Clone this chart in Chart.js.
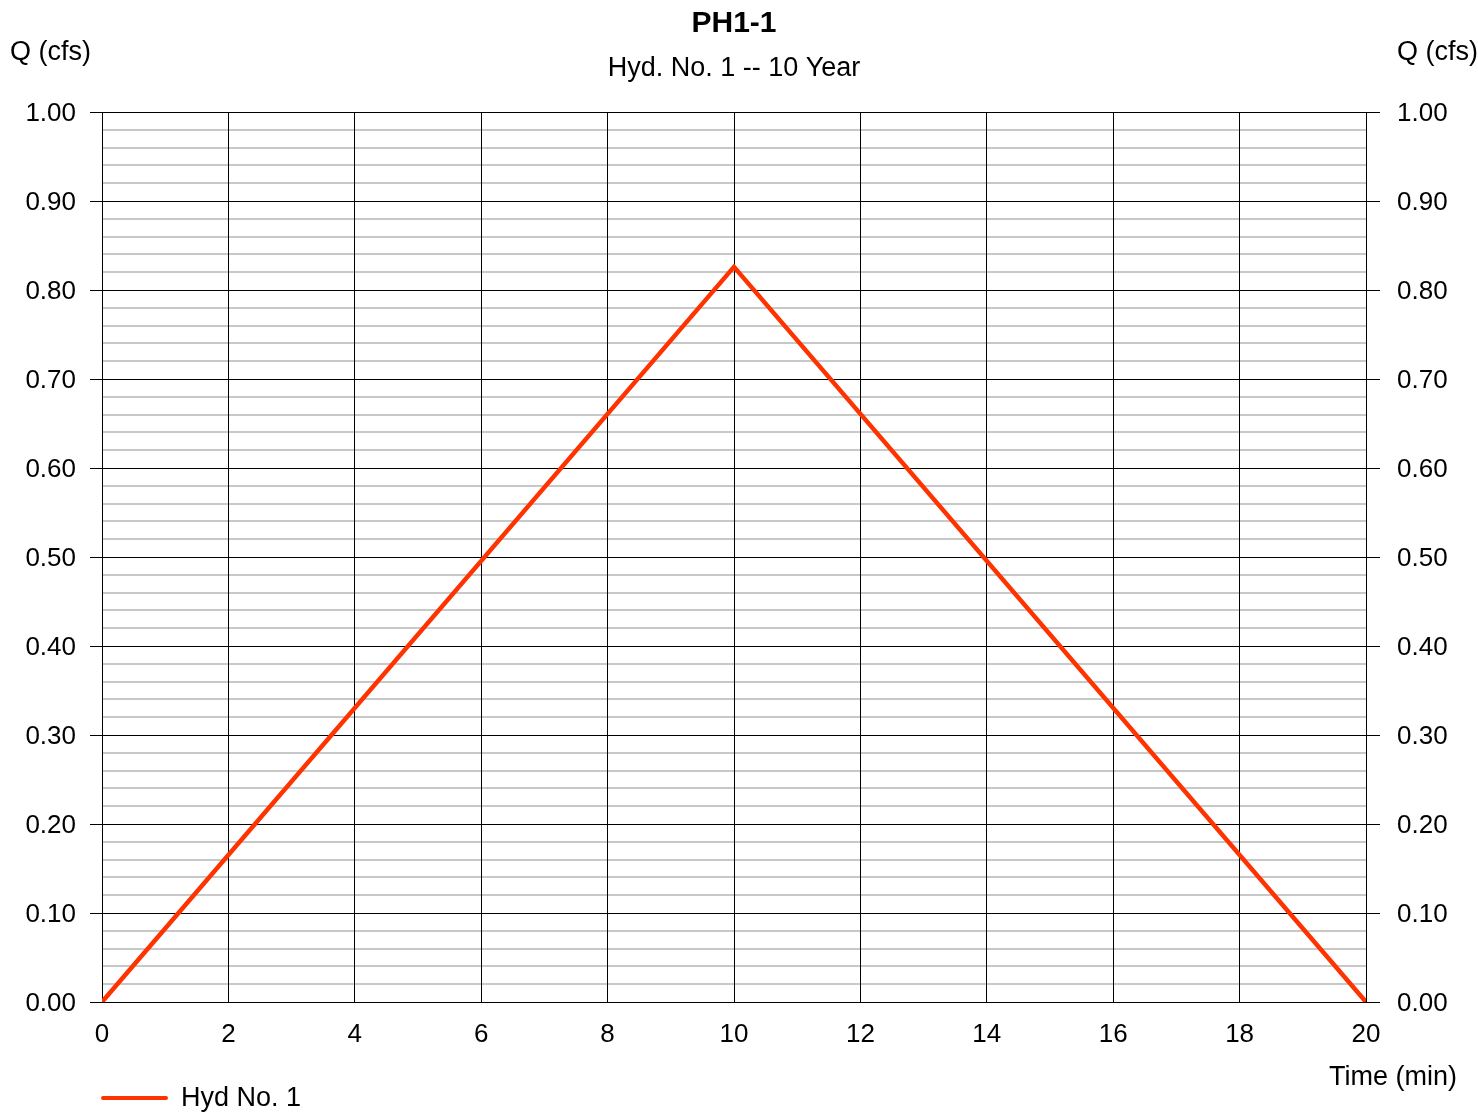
<!DOCTYPE html>
<html>
<head>
<meta charset="utf-8">
<title>PH1-1</title>
<script src="https://cdn.jsdelivr.net/npm/chart.js@4"></script>
<style>
  html, body { margin: 0; padding: 0; background: #fff; }
  canvas { display: block; }
</style>
</head>
<body>
<canvas id="hydChart" width="1478" height="1112"></canvas>
<script>
// ===== Data =====
const timeMin = [0, 10, 20];
const flowCfs = [0, 0.826, 0];
const seriesName = 'Hyd No. 1';
const chartTitle = 'PH1-1';
const chartSubtitle = 'Hyd. No. 1 -- 10 Year';

const FONT = "'Liberation Sans', Arial, sans-serif";
const LINE_COLOR = '#ff3300';

Chart.defaults.font.family = FONT;
Chart.defaults.font.size = 26;
Chart.defaults.color = '#000';

function isMajor(v) {
  return Math.round(v * 100) % 10 === 0;
}

// ===== Text labels, titles and legend =====
const labelsPlugin = {
  id: 'labelsPlugin',
  afterDraw(chart) {
    const ctx = chart.ctx;
    const area = chart.chartArea;
    const cx = (area.left + area.right) / 2;
    ctx.save();
    ctx.fillStyle = '#000';
    ctx.textBaseline = 'middle';

    ctx.font = "bold 30px " + FONT;
    ctx.textAlign = 'center';
    ctx.fillText(chartTitle, cx, 24);

    ctx.font = "27px " + FONT;
    ctx.fillText(chartSubtitle, cx, 69);

    ctx.textAlign = 'left';
    ctx.fillText('Q (cfs)', 10, 53);
    ctx.fillText('Q (cfs)', 1397, 53);
    ctx.fillText('Time (min)', 1329, 1078);

    // legend
    ctx.strokeStyle = LINE_COLOR;
    ctx.lineWidth = 4;
    ctx.lineCap = 'round';
    ctx.beginPath();
    ctx.moveTo(103, 1098);
    ctx.lineTo(166, 1098);
    ctx.stroke();
    ctx.fillText(seriesName, 181, 1099);
    ctx.restore();
  }
};

// ===== Chart =====
const ctx = document.getElementById('hydChart').getContext('2d');
new Chart(ctx, {
  type: 'line',
  data: {
    datasets: [{
      label: seriesName,
      data: timeMin.map((t, i) => ({ x: t, y: flowCfs[i] })),
      borderColor: LINE_COLOR,
      borderWidth: 4.5,
      tension: 0,
      pointRadius: 0,
      fill: false
    }]
  },
  options: {
    responsive: false,
    animation: false,
    layout: { padding: { top: 112, left: 0, right: 0, bottom: 0 } },
    plugins: {
      legend: { display: false },
      title: { display: false },
      tooltip: { enabled: false }
    },
    scales: {
      y: {
        position: 'left',
        min: 0,
        max: 1,
        afterFit: (scale) => { scale.width = 102; },
        border: { display: false },
        grid: {
          color: (c) => isMajor(c.tick.value) ? '#000' : '#c8c8c8',
          lineWidth: (c) => isMajor(c.tick.value) ? 1 : 2,
          tickColor: (c) => isMajor(c.tick.value) ? '#000' : 'rgba(0,0,0,0)',
          tickLength: 12
        },
        ticks: {
          stepSize: 0.02,
          autoSkip: false,
          padding: 14,
          labelOffset: 2,
          callback: (v) => isMajor(v) ? v.toFixed(2) : ''
        }
      },
      yRight: {
        position: 'right',
        min: 0,
        max: 1,
        afterFit: (scale) => { scale.width = 112; },
        border: { display: false },
        grid: {
          drawOnChartArea: false,
          tickColor: (c) => isMajor(c.tick.value) ? '#000' : 'rgba(0,0,0,0)',
          tickLength: 14
        },
        ticks: {
          stepSize: 0.02,
          autoSkip: false,
          padding: 17,
          labelOffset: 2,
          callback: (v) => isMajor(v) ? v.toFixed(2) : ''
        }
      },
      x: {
        type: 'linear',
        min: 0,
        max: 20,
        afterFit: (scale) => { scale.height = 110; },
        border: { display: false },
        grid: {
          color: '#000',
          lineWidth: 1,
          drawTicks: false
        },
        ticks: {
          stepSize: 2,
          autoSkip: false,
          padding: 17,
          maxRotation: 0
        }
      }
    }
  },
  plugins: [labelsPlugin]
});
</script>
</body>
</html>
